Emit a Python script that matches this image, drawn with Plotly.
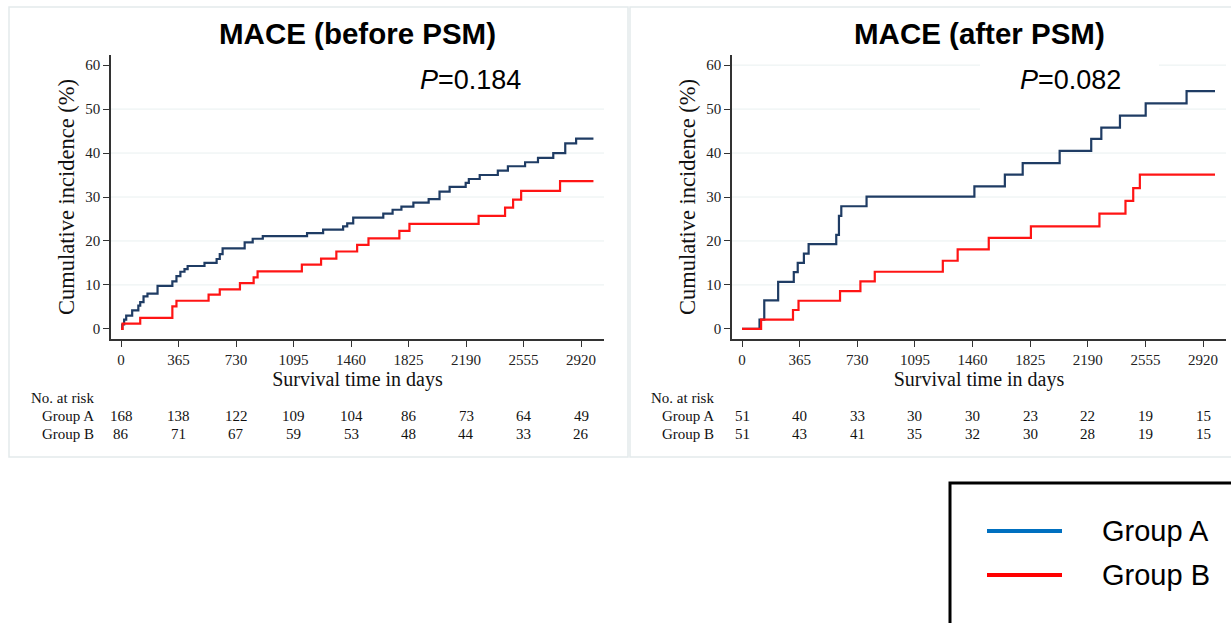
import plotly.graph_objects as go

# ---------------- data ----------------
ticks = [0, 365, 730, 1095, 1460, 1825, 2190, 2555, 2920]

# Before PSM
pre_a_days = [0, 8, 20, 33, 71, 110, 122, 143, 168, 232, 326, 352, 377, 403, 423, 530, 607, 627, 645,
              785, 836, 900, 1181, 1283, 1410, 1436, 1474, 1665, 1724, 1780, 1856, 1953, 2022, 2086,
              2188, 2208, 2277, 2392, 2456, 2565, 2647, 2744, 2820, 2889, 2999]
pre_a_inc = [0, 1.0, 2.1, 3.0, 4.2, 5.3, 6.1, 7.4, 8.0, 9.8, 10.8, 12.0, 13.0, 13.6, 14.3, 15.0, 15.9, 17.0, 18.3,
             19.7, 20.5, 21.1, 21.8, 22.6, 23.3, 24.0, 25.3, 26.2, 27.1, 27.8, 28.7, 29.5, 31.2, 32.3,
             33.2, 34.1, 35.0, 36.0, 37.0, 37.9, 38.9, 40.0, 42.2, 43.3, 43.3]
pre_b_days = [0, 10, 122, 326, 352, 556, 627, 755, 842, 867, 1148, 1270, 1367, 1499, 1571, 1767, 1831,
              2270, 2438, 2489, 2540, 2787, 2999]
pre_b_inc = [0, 1.2, 2.5, 5.1, 6.4, 7.8, 9.0, 10.4, 11.7, 13.1, 14.6, 16.0, 17.6, 19.1, 20.6, 22.3, 23.9,
             25.7, 27.6, 29.4, 31.4, 33.6, 33.6]
pre_risk_a = [168, 138, 122, 109, 104, 86, 73, 64, 49]
pre_risk_b = [86, 71, 67, 59, 53, 48, 44, 33, 26]

# After PSM
post_a_days = [0, 111, 141, 229, 328, 353, 392, 422, 597, 614, 629, 789, 1472, 1665, 1778, 2012, 2212,
               2276, 2394, 2557, 2816, 2996]
post_a_inc = [0, 2.1, 6.5, 10.7, 12.9, 15.0, 17.1, 19.3, 21.4, 25.7, 27.9, 30.1, 32.4, 35.1, 37.7, 40.5,
              43.2, 45.8, 48.5, 51.3, 54.1, 54.1]
post_b_days = [0, 121, 323, 358, 621, 750, 841, 1272, 1366, 1563, 1830, 2264, 2429, 2478, 2520, 2996]
post_b_inc = [0, 2.1, 4.3, 6.4, 8.6, 10.8, 13.0, 15.5, 18.1, 20.7, 23.3, 26.2, 29.1, 32.0, 35.1, 35.1]
post_risk_a = [51, 40, 33, 30, 30, 23, 22, 19, 15]
post_risk_b = [51, 43, 41, 35, 32, 30, 28, 19, 15]

titles = ["MACE (before PSM)", "MACE (after PSM)"]
pvals = ["<i>P</i>=0.184", "<i>P</i>=0.082"]
group_names = ["Group A", "Group B"]

# ---------------- styling ----------------
W, H = 1231, 623
NAVY = "#1f3c64"
RED = "#ff1414"
SERIF = "Liberation Serif, Times New Roman, serif"
SANS = "Liberation Sans, Arial, sans-serif"

def fx(px):
    return px / W

def fy(py):
    return 1 - py / H

panels = [
    dict(x0=111, x1=604, data=(pre_a_days, pre_a_inc, pre_b_days, pre_b_inc),
         risk=(pre_risk_a, pre_risk_b), zero=121, tick_end=581, label_x=96, p_x=470,
         box=(9, 628), grid_top=False),
    dict(x0=732, x1=1226, data=(post_a_days, post_a_inc, post_b_days, post_b_inc),
         risk=(post_risk_a, post_risk_b), zero=742, tick_end=1203, label_x=716, p_x=1070,
         box=(630, 1240), grid_top=True),
]

fig = go.Figure()
layout = dict(
    width=W, height=H, margin=dict(l=0, r=0, t=0, b=0),
    paper_bgcolor="white", plot_bgcolor="white", showlegend=False,
)
annotations = []
shapes = []

y_top, y_bot = 55, 339
yr = [-2.3, 62.3]

for i, p in enumerate(panels):
    xa = "x" if i == 0 else "x2"
    ya = "y" if i == 0 else "y2"
    xkey = "xaxis" if i == 0 else "xaxis2"
    ykey = "yaxis" if i == 0 else "yaxis2"
    scale = 2920 / (p["tick_end"] - p["zero"])
    xr = [(p["x0"] - p["zero"]) * scale, (p["x1"] - p["zero"]) * scale]
    a_d, a_i, b_d, b_i = p["data"]
    fig.add_trace(go.Scatter(x=a_d, y=a_i, mode="lines", line=dict(color=NAVY, width=2.2, shape="hv"),
                             xaxis=xa, yaxis=ya, name=group_names[0]))
    fig.add_trace(go.Scatter(x=b_d, y=b_i, mode="lines", line=dict(color=RED, width=2.2, shape="hv"),
                             xaxis=xa, yaxis=ya, name=group_names[1]))
    layout[xkey] = dict(
        domain=[fx(p["x0"]), fx(p["x1"])], range=xr, anchor=ya,
        tickvals=ticks, ticktext=[str(t) for t in ticks], ticks="outside", ticklen=6,
        tickcolor="#333", showline=True, linecolor="#333", linewidth=1.5, showgrid=False,
        zeroline=False, tickfont=dict(family=SERIF, size=15, color="#222"),
        title=dict(text="Survival time in days", font=dict(family=SERIF, size=20, color="#111"), standoff=0),
    )
    layout[ykey] = dict(
        domain=[fy(y_bot), fy(y_top)], range=yr, anchor=xa,
        tickvals=[0, 10, 20, 30, 40, 50, 60], ticks="outside", ticklen=6, tickcolor="#333",
        showline=True, linecolor="#333", linewidth=1.5, showgrid=False, zeroline=False,
        tickfont=dict(family=SERIF, size=15, color="#222"),
        title=dict(text="Cumulative incidence (%)", font=dict(family=SERIF, size=22.5, color="#111"), standoff=4),
    )
    # gridlines
    gvals = [10, 20, 30, 40, 50] + ([60] if p["grid_top"] else [])
    for g in gvals:
        shapes.append(dict(type="line", xref=xa + " domain", yref=ya, x0=0, x1=1, y0=g, y1=g,
                           line=dict(color="#e9f0f0", width=1), layer="below"))
    if p["grid_top"]:
        # white box behind the P-value text that interrupts the top gridline (pixel -> axis units)
        gx0 = (980 - p["zero"]) * scale
        gx1 = (1159 - p["zero"]) * scale
        shapes.append(dict(type="rect", xref=xa, yref=ya + " domain", x0=gx0, x1=gx1,
                           y0=0.8, y1=1.0, fillcolor="white", line=dict(width=0), layer="below"))
    # panel border
    shapes.append(dict(type="rect", xref="paper", yref="paper", x0=fx(p["box"][0]), x1=fx(p["box"][1]),
                       y0=fy(457), y1=fy(7), line=dict(color="#e3eaec", width=1.5), layer="below"))
    # title
    annotations.append(dict(text="<b>" + titles[i] + "</b>", xref=xa + " domain", yref="paper",
                            x=0.5, y=fy(33), xanchor="center", yanchor="middle", showarrow=False,
                            font=dict(family=SANS, size=29.5, color="black")))
    # p value
    annotations.append(dict(text=pvals[i], xref="paper", yref="paper", x=fx(p["p_x"]), y=fy(80),
                            xanchor="center", yanchor="middle", showarrow=False,
                            font=dict(family=SANS, size=27, color="black")))
    # number at risk table
    annotations.append(dict(text="No. at risk", xref="paper", yref="paper", x=fx(p["label_x"]), y=fy(398),
                            xanchor="right", yanchor="middle", showarrow=False,
                            font=dict(family=SERIF, size=15, color="#111")))
    for k, (gname, vals, yy) in enumerate(zip(group_names, p["risk"], [416, 434])):
        annotations.append(dict(text=gname, xref="paper", yref="paper", x=fx(p["label_x"]), y=fy(yy),
                                xanchor="right", yanchor="middle", showarrow=False,
                                font=dict(family=SERIF, size=15, color="#111")))
        for t, v in zip(ticks, vals):
            annotations.append(dict(text=str(v), xref=xa, yref="paper", x=t, y=fy(yy),
                                    xanchor="center", yanchor="middle", showarrow=False,
                                    font=dict(family=SERIF, size=15, color="#111")))

# legend box
shapes.append(dict(type="rect", xref="paper", yref="paper", x0=fx(950), x1=fx(1245), y0=fy(640), y1=fy(483),
                   line=dict(color="black", width=3)))
for color, yy, name in [("#0070c0", 531, group_names[0]), ("#ff0000", 575, group_names[1])]:
    shapes.append(dict(type="line", xref="paper", yref="paper", x0=fx(987), x1=fx(1062), y0=fy(yy), y1=fy(yy),
                       line=dict(color=color, width=4)))
    annotations.append(dict(text=name, xref="paper", yref="paper", x=fx(1100), y=fy(yy),
                            xanchor="left", yanchor="middle", showarrow=False,
                            font=dict(family=SANS, size=29, color="black")))

layout["annotations"] = annotations
layout["shapes"] = shapes
fig.update_layout(**layout)
fig.write_html("out.html", config={"displayModeBar": False},
               post_script="document.body.style.margin='0';document.body.style.overflow='hidden';")
